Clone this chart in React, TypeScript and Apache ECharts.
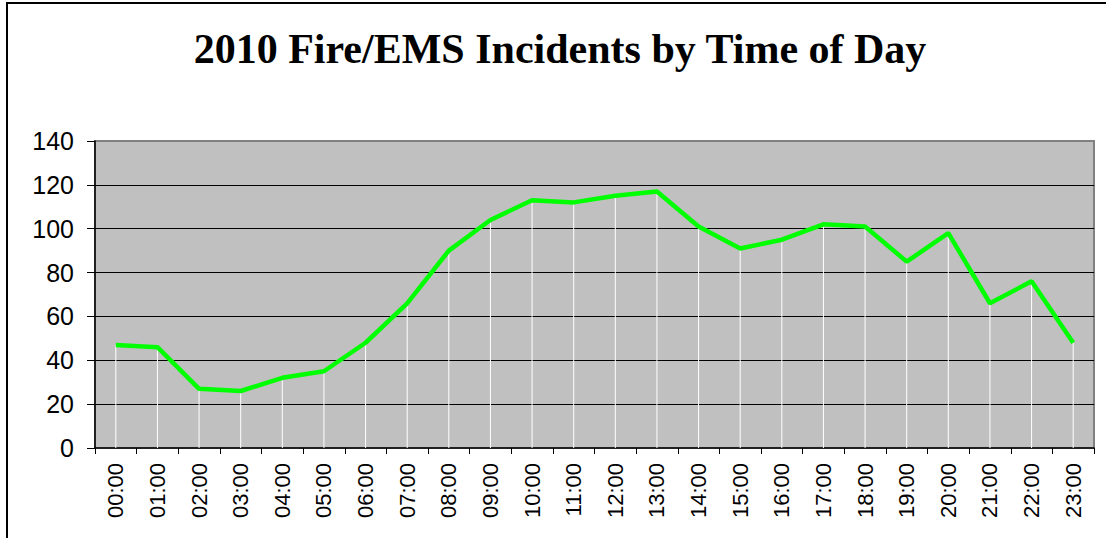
import React, { useEffect, useRef } from "react";
import * as echarts from "echarts";

const TITLE = "2010 Fire/EMS Incidents by Time of Day";
const HOURS = [
  "00:00", "01:00", "02:00", "03:00", "04:00", "05:00", "06:00", "07:00",
  "08:00", "09:00", "10:00", "11:00", "12:00", "13:00", "14:00", "15:00",
  "16:00", "17:00", "18:00", "19:00", "20:00", "21:00", "22:00", "23:00",
];
const INCIDENTS = [
  47, 46, 27, 26, 32, 35, 48, 66, 90, 104, 113, 112, 115, 117, 101, 91, 95,
  102, 101, 85, 98, 66, 76, 48,
];
const Y_MIN = 0;
const Y_MAX = 140;
const Y_STEP = 20;

export default function App() {
  const ref = useRef<HTMLDivElement>(null);
  useEffect(() => {
    if (!ref.current) return;
    const chart = echarts.init(ref.current, null, { renderer: "svg" });
    chart.setOption({
      animation: false,
      backgroundColor: "#ffffff",
      title: {
        text: TITLE,
        left: 560,
        textAlign: "center",
        top: 28,
        padding: 0,
        textStyle: {
          fontFamily: "'Liberation Serif', 'Times New Roman', serif",
          fontWeight: "bold",
          fontSize: 42,
          color: "#000",
        },
      },
      graphic: [
        {
          type: "rect",
          z: 100,
          silent: true,
          shape: { x: 7, y: 3, width: 1200, height: 700 },
          style: { fill: "none", stroke: "#000", lineWidth: 2 },
        },
      ],
      grid: {
        left: 95,
        right: 12,
        top: 141,
        bottom: 90,
        show: true,
        backgroundColor: "#c0c0c0",
        borderColor: "#808080",
        borderWidth: 2,
      },
      xAxis: {
        type: "category",
        data: HOURS,
        boundaryGap: true,
        axisLine: { show: true, lineStyle: { color: "#000", width: 1.5 } },
        axisTick: { show: true, length: 6, lineStyle: { color: "#000", width: 1 } },
        axisLabel: {
          rotate: 90,
          margin: 15,
          fontFamily: "'Liberation Sans', Arial, sans-serif",
          fontSize: 22,
          color: "#000",
          interval: 0,
        },
        splitLine: { show: false },
      },
      yAxis: {
        type: "value",
        min: Y_MIN,
        max: Y_MAX,
        interval: Y_STEP,
        axisLine: { show: true, lineStyle: { color: "#000", width: 1.5 } },
        axisTick: { show: true, length: 8, lineStyle: { color: "#000", width: 1 } },
        axisLabel: {
          margin: 21,
          fontFamily: "'Liberation Sans', Arial, sans-serif",
          fontSize: 25,
          color: "#000",
        },
        splitLine: {
          show: true,
          showMinLine: false,
          showMaxLine: false,
          lineStyle: { color: "#000", width: 1 },
        },
      },
      series: [
        {
          type: "bar",
          data: INCIDENTS,
          barWidth: 1,
          itemStyle: { color: "#ffffff" },
          silent: true,
          z: 1,
        },
        {
          type: "line",
          data: INCIDENTS,
          showSymbol: false,
          symbol: "none",
          lineStyle: { color: "#00ff00", width: 4.5 },
          itemStyle: { color: "#00ff00" },
          z: 3,
        },
      ],
    });
    return () => chart.dispose();
  }, []);
  return (
    <div
      ref={ref}
      style={{ position: "fixed", left: 0, top: 0, width: 1106, height: 538 }}
    />
  );
}
